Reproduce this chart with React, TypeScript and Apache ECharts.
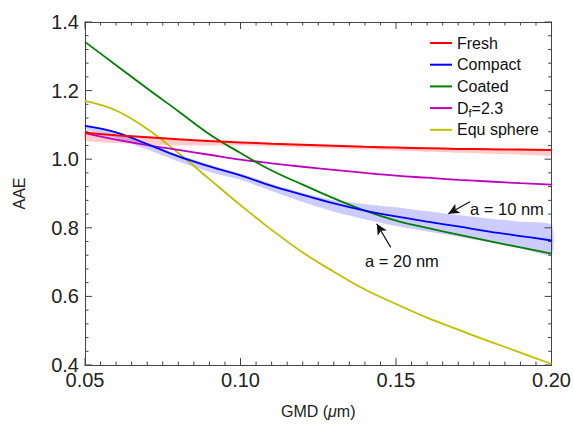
import React, { useEffect, useRef } from "react";
import * as echarts from "echarts";

const gmd = [0.05, 0.06, 0.07, 0.08, 0.09, 0.10, 0.11, 0.12, 0.13, 0.14, 0.15, 0.16, 0.17, 0.18, 0.19, 0.20];
const fresh = [1.077, 1.070, 1.064, 1.058, 1.053, 1.049, 1.045, 1.042, 1.039, 1.036, 1.034, 1.032, 1.030, 1.029, 1.028, 1.027];
const freshLow = [1.054, 1.047, 1.042, 1.040, 1.040, 1.040, 1.037, 1.034, 1.031, 1.028, 1.025, 1.022, 1.019, 1.016, 1.013, 1.011];
const compact = [1.097, 1.078, 1.044, 1.008, 0.979, 0.953, 0.922, 0.896, 0.871, 0.850, 0.833, 0.818, 0.804, 0.789, 0.776, 0.763];
const compactHigh = [1.100, 1.081, 1.048, 1.013, 0.984, 0.958, 0.928, 0.902, 0.880, 0.869, 0.860, 0.848, 0.837, 0.827, 0.818, 0.809];
const compactLow = [1.088, 1.062, 1.028, 0.993, 0.963, 0.940, 0.907, 0.875, 0.847, 0.825, 0.805, 0.789, 0.774, 0.758, 0.740, 0.722];
const coated = [1.342, 1.274, 1.206, 1.140, 1.073, 1.018, 0.967, 0.926, 0.886, 0.850, 0.821, 0.800, 0.780, 0.761, 0.743, 0.725];
const fractal = [1.076, 1.057, 1.041, 1.027, 1.013, 0.999, 0.988, 0.978, 0.969, 0.960, 0.952, 0.946, 0.940, 0.935, 0.930, 0.926];
const sphere = [1.170, 1.142, 1.088, 1.018, 0.942, 0.866, 0.794, 0.728, 0.672, 0.620, 0.578, 0.538, 0.503, 0.469, 0.436, 0.403];

const xTicks = { min: 0.05, max: 0.2, interval: 0.05 };
const yTicks = { min: 0.4, max: 1.4, interval: 0.2 };
const xMinorSplit = 10;
const yMinorSplit = 5;

const legendNames = ["Fresh", "Compact", "Coated", "Df=2.3", "Equ sphere"];
const annotations = [
  { text: "a = 10 nm", from: [0.1738, 0.876], to: [0.1668, 0.841] },
  { text: "a = 20 nm", from: [0.1483, 0.743], to: [0.1438, 0.812] },
];

const FONT = "'Liberation Sans', Arial, Helvetica, sans-serif";
const AX = "#444";

function pairs(ys: number[]) {
  return gmd.map((x, i) => [x, ys[i]]);
}

function bandSeries(name: string, hi: number[], lo: number[], fill: string) {
  return {
    name,
    type: "custom",
    silent: true,
    z: 1,
    data: [[gmd[0], hi[0]]],
    renderItem: (_params: any, api: any) => {
      const top = gmd.map((x, i) => api.coord([x, hi[i]]));
      const bottom = gmd.map((x, i) => api.coord([x, lo[i]])).reverse();
      return {
        type: "polygon",
        shape: { points: top.concat(bottom), smooth: 0.2 },
        style: { fill, stroke: "none" },
      };
    },
  };
}

// inward frame ticks on all four sides, placed through the axis scales
function frameTicksSeries() {
  return {
    name: "frameTicks",
    type: "custom",
    silent: true,
    z: 2,
    data: [[xTicks.min, yTicks.min]],
    renderItem: (_params: any, api: any) => {
      const children: any[] = [];
      const line = (x1: number, y1: number, x2: number, y2: number) =>
        children.push({
          type: "line",
          shape: { x1, y1, x2, y2 },
          style: { stroke: AX, lineWidth: 1 },
        });
      const nx = Math.round((xTicks.max - xTicks.min) / xTicks.interval) * xMinorSplit;
      for (let k = 0; k <= nx; k++) {
        const v = xTicks.min + (k * xTicks.interval) / xMinorSplit;
        const len = k % xMinorSplit === 0 ? 7 : 3.5;
        const b = api.coord([v, yTicks.min]);
        const t = api.coord([v, yTicks.max]);
        line(b[0], b[1], b[0], b[1] - len);
        line(t[0], t[1], t[0], t[1] + len);
      }
      const ny = Math.round((yTicks.max - yTicks.min) / yTicks.interval) * yMinorSplit;
      for (let k = 0; k <= ny; k++) {
        const v = yTicks.min + (k * yTicks.interval) / yMinorSplit;
        const len = k % yMinorSplit === 0 ? 7 : 3.5;
        const l = api.coord([xTicks.min, v]);
        const r = api.coord([xTicks.max, v]);
        line(l[0], l[1], l[0] + len, l[1]);
        line(r[0], r[1], r[0] - len, r[1]);
      }
      return { type: "group", children };
    },
  };
}

export default function App() {
  const ref = useRef<HTMLDivElement>(null);
  useEffect(() => {
    if (!ref.current) return;
    const chart = echarts.init(ref.current, undefined, { renderer: "svg" });
    const lineSeries = (name: string, ys: number[], color: string, width: number, extra: any = {}) => ({
      name,
      type: "line",
      data: pairs(ys),
      symbol: "none",
      smooth: 0.4,
      lineStyle: { color, width },
      itemStyle: { color },
      z: 3,
      ...extra,
    });
    const frameAxis = () => ({
      type: "value",
      axisLine: { show: true, lineStyle: { color: AX, width: 1 } },
      splitLine: { show: false },
      axisTick: { show: false },
      minorTick: { show: false },
    });
    chart.setOption({
      animation: false,
      grid: { left: 85, right: 21, top: 22, bottom: 51 },
      xAxis: [
        {
          ...frameAxis(),
          ...xTicks,
          position: "bottom",
          axisLabel: {
            fontSize: 20,
            color: "#222",
            margin: 5,
            fontFamily: FONT,
            formatter: (v: number) => v.toFixed(2),
          },
          name: "GMD ({i|μ}m)",
          nameLocation: "middle",
          nameGap: 38,
          nameTextStyle: {
            fontSize: 16,
            color: "#222",
            fontFamily: FONT,
            rich: { i: { fontStyle: "italic", fontSize: 16, color: "#222", fontFamily: FONT } },
          },
        },
        { ...frameAxis(), ...xTicks, position: "top", axisLabel: { show: false } },
      ],
      yAxis: [
        {
          ...frameAxis(),
          ...yTicks,
          position: "left",
          axisLabel: {
            fontSize: 20,
            color: "#222",
            margin: 6,
            fontFamily: FONT,
            formatter: (v: number) => v.toFixed(1),
          },
          name: "AAE",
          nameLocation: "middle",
          nameRotate: 90,
          nameGap: 58,
          nameTextStyle: { fontSize: 16, color: "#222", fontFamily: FONT },
        },
        { ...frameAxis(), ...yTicks, position: "right", axisLabel: { show: false } },
      ],
      legend: {
        data: legendNames,
        orient: "vertical",
        left: 430,
        top: 33,
        icon: "rect",
        itemWidth: 22,
        itemHeight: 2,
        itemGap: 1.7,
        padding: 0,
        selectedMode: false,
        formatter: (name: string) => (name === "Df=2.3" ? "{n|D}{s|f}{n|=2.3}" : name),
        textStyle: {
          fontSize: 16,
          lineHeight: 20,
          color: "#111",
          fontFamily: FONT,
          rich: {
            n: { fontSize: 16, lineHeight: 20, color: "#111", fontFamily: FONT },
            s: { fontSize: 11, lineHeight: 11, verticalAlign: "bottom", color: "#111", fontFamily: FONT },
          },
        },
      },
      graphic: annotations.map((a, i) => ({
        type: "text",
        left: i === 0 ? 470 : 365,
        top: i === 0 ? 200 : 252,
        style: { text: a.text, fontSize: 16.5, fill: "#111", fontFamily: FONT },
        z: 10,
      })),
      series: [
        bandSeries("freshBand", fresh, freshLow, "rgba(255,0,0,0.2)"),
        bandSeries("compactBand", compactHigh, compactLow, "rgba(0,0,255,0.2)"),
        frameTicksSeries(),
        lineSeries("Equ sphere", sphere, "#bfbf00", 1.8),
        lineSeries("Df=2.3", fractal, "#bf00bf", 1.8),
        lineSeries("Coated", coated, "#008000", 1.8),
        lineSeries("Compact", compact, "#0000ff", 1.8, {
          markLine: {
            silent: true,
            symbol: ["none", "arrow"],
            symbolSize: [8, 11],
            label: { show: false },
            lineStyle: { color: "#111", width: 1.2, type: "solid" },
            data: annotations.map((a) => [{ coord: a.from }, { coord: a.to }]),
          },
        }),
        lineSeries("Fresh", fresh, "#ff0000", 2),
      ],
    });
    return () => chart.dispose();
  }, []);
  return (
    <div
      ref={ref}
      style={{ position: "fixed", left: 0, top: 0, width: 574, height: 424, background: "#fff" }}
    />
  );
}
